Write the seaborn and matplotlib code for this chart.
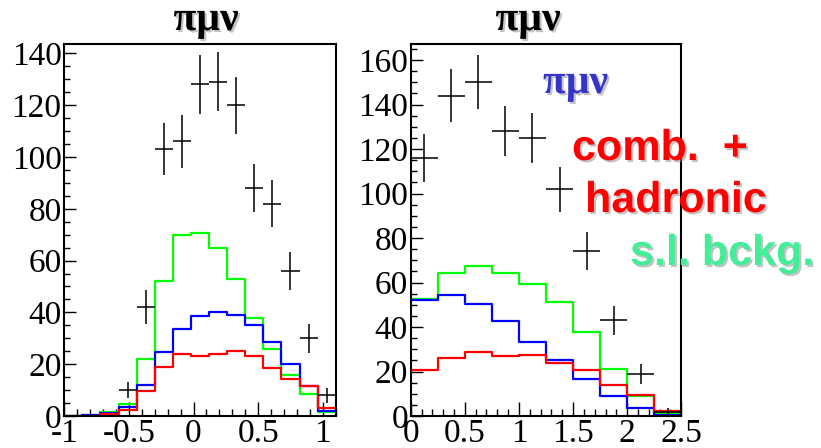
import numpy as np
import pandas as pd
import matplotlib
matplotlib.use("Agg")
import matplotlib.pyplot as plt
import matplotlib.patheffects as pe
from matplotlib.ticker import MultipleLocator, FuncFormatter
import seaborn as sns

# ---------------- data ----------------
# left panel: 15 bins from -1 to 1.1
left_lo, left_hi, left_nbins = -1.0, 1.1, 15
left_green = [0, 0.5, 1.5, 4.5, 22, 52, 70, 70.5, 65, 53, 38, 26, 16, 8.5, 1.5]
left_blue = [0, 0.3, 1.0, 3.3, 12, 24.6, 33.5, 38.5, 40, 39, 35, 28.6, 20.2, 11.6, 2]
left_red = [0, 0, 0.8, 2.3, 9.8, 19, 24, 23.3, 24, 25.2, 23.2, 18.7, 14.4, 11.6, 3.2]
left_data = [0, 0, 0, 10, 42, 103, 106, 128, 129, 120, 88, 82, 56, 30, 8]
left_err = [0, 0, 0, 3.2, 6.5, 10.1, 10.3, 11.3, 11.4, 11.0, 9.4, 9.1, 7.5, 5.5, 2.8]

# right panel: 10 bins from 0 to 2.5
right_lo, right_hi, right_nbins = 0.0, 2.5, 10
right_green = [52.6, 64.4, 67.6, 64.1, 59.2, 51.4, 37.8, 21.3, 8.8, 1.2]
right_blue = [52.1, 54.5, 50.2, 42.7, 33.4, 25.3, 16.6, 9.1, 3.6, 0.6]
right_red = [20.7, 25.9, 28.6, 26.8, 27.3, 24.0, 20.7, 13.9, 9.4, 2.2]
right_data = [116, 144, 150, 128, 125, 102, 74, 43, 19, 2]
right_err = [10.8, 12.0, 12.2, 11.3, 11.2, 10.1, 8.6, 6.6, 4.4, 1.4]

title_text = "πμν"
label_sig = "πμν"
label_comb = "comb.  +"
label_had = "hadronic"
label_sl = "s.l. bckg."

# ---------------- style ----------------
sns.set_style("ticks")
plt.rcParams["font.family"] = ["Liberation Serif", "DejaVu Serif"]

W, H = 821, 448
fig = plt.figure(figsize=(W / 100, H / 100), dpi=100)
ax1 = fig.add_axes([64.3 / W, 32 / H, 271.4 / W, 372 / H])
ax2 = fig.add_axes([410.7 / W, 32 / H, 270.6 / W, 372 / H])

COL = {"green": "#00ff00", "blue": "#0000ff", "red": "#ff0000"}


def draw_panel(ax, lo, hi, nb, g, b, r, d, e, ylim, xmaj, ymaj, ymin_step):
    edges = np.linspace(lo, hi, nb + 1)
    centers = 0.5 * (edges[:-1] + edges[1:])
    half = 0.5 * (edges[1] - edges[0])
    df = pd.DataFrame({"x": centers, "green": g, "blue": b, "red": r})
    for name in ["green", "blue", "red"]:
        sns.histplot(data=df, x="x", weights=name, bins=[float(v) for v in edges],
                     element="step", fill=False, color=COL[name], linewidth=1.6, ax=ax)
    dd = pd.DataFrame({"x": centers, "y": d, "e": e})
    dd = dd[dd["y"] > 0]
    ax.errorbar(dd["x"], dd["y"], xerr=half, yerr=dd["e"], fmt="none",
                ecolor="black", elinewidth=1.1, capsize=0, zorder=5)
    ax.set_xlim(lo, hi)
    ax.set_ylim(0, ylim)
    ax.set_xlabel("")
    ax.set_ylabel("")
    ax.xaxis.set_major_locator(MultipleLocator(xmaj))
    ax.xaxis.set_minor_locator(MultipleLocator(0.1))
    ax.yaxis.set_major_locator(MultipleLocator(ymaj))
    ax.yaxis.set_minor_locator(MultipleLocator(ymin_step))
    ax.tick_params(axis="both", which="both", direction="in", top=False, right=False,
                   color="black", labelcolor="black", width=1.0)
    ax.tick_params(axis="y", which="major", length=8.6, pad=2, labelsize=24)
    ax.tick_params(axis="y", which="minor", length=4.5)
    ax.tick_params(axis="x", which="major", length=10, pad=2, labelsize=24)
    ax.tick_params(axis="x", which="minor", length=5)
    for sp in ax.spines.values():
        sp.set_visible(True)
        sp.set_linewidth(1.5)
        sp.set_color("black")
    ax.set_facecolor("white")
    ax.xaxis.set_major_formatter(FuncFormatter(lambda v, p: "%g" % round(v, 3)))


draw_panel(ax1, left_lo, left_hi, left_nbins, left_green, left_blue, left_red,
           left_data, left_err, 143.6, 0.5, 20, 5)
draw_panel(ax2, right_lo, right_hi, right_nbins, right_green, right_blue, right_red,
           right_data, right_err, 167.2, 0.5, 20, 5)

shadow = [pe.SimplePatchShadow(offset=(1.5, -1.5), shadow_rgbFace="#888888", alpha=0.5),
          pe.Normal()]

def ftext(x, y, s, **kw):
    t = fig.text(x / W, 1 - y / H, s, va="baseline", **kw)
    t.set_path_effects(shadow)
    return t

ftext(206, 30, title_text, ha="center", fontsize=30, weight="bold",
      family=["Liberation Serif", "DejaVu Serif"], color="black")
ftext(528, 30, title_text, ha="center", fontsize=30, weight="bold",
      family=["Liberation Serif", "DejaVu Serif"], color="black")
ftext(543, 93, label_sig, ha="left", fontsize=30, weight="bold",
      family=["Liberation Serif", "DejaVu Serif"], color="#3535c8")
ftext(572, 160, label_comb, ha="left", fontsize=31, weight="bold",
      family=["Liberation Sans", "DejaVu Sans"], color="#ff0000")
ftext(585, 212, label_had, ha="left", fontsize=31, weight="bold",
      family=["Liberation Sans", "DejaVu Sans"], color="#ff0000")
ftext(630, 265, label_sl, ha="left", fontsize=31, weight="bold",
      family=["Liberation Sans", "DejaVu Sans"], color="#44ee99")

fig.savefig("out.png", dpi=100, facecolor="white")
